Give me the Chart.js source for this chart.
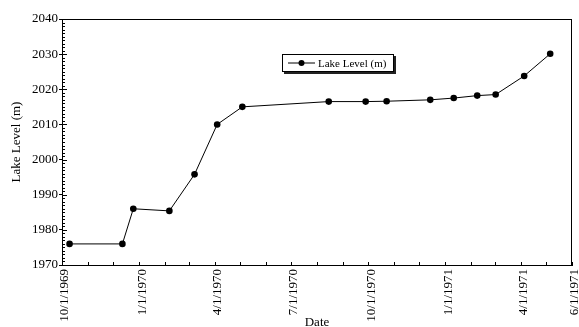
<!DOCTYPE html>
<html>
<head>
<meta charset="utf-8">
<script src="https://cdn.jsdelivr.net/npm/chart.js@4"></script>
<style>
  html, body { margin: 0; padding: 0; background: #fff; }
  #wrap { position: relative; width: 579px; height: 327px; overflow: hidden; }
  #legend {
    position: absolute; left: 282px; top: 54px; width: 110px; height: 16px;
    border: 1px solid #000; background: #fff; box-shadow: 2px 2px 0 #222;
    font-family: 'Liberation Serif', 'Times New Roman', serif; font-size: 11px;
    display: flex; align-items: center; white-space: nowrap; color: #000;
  }
  #legend svg { margin-left: 5px; margin-right: 3px; }
</style>
</head>
<body>
<div id="wrap">
  <canvas id="c" width="579" height="327"></canvas>
  <div id="legend"><svg width="27" height="10"><line x1="0" y1="5" x2="27" y2="5" stroke="#000" stroke-width="1"/><circle cx="13.5" cy="5" r="3" fill="#000"/></svg><span>Lake Level (m)</span></div>
</div>
<script>
// ---- data ----
const seriesName = 'Lake Level (m)';
const sampleDates = ['1969-10-10','1969-12-12','1969-12-25','1970-02-06','1970-03-08','1970-04-04','1970-05-04',
  '1970-08-15','1970-09-28','1970-10-23','1970-12-14','1971-01-11','1971-02-08','1971-03-02','1971-04-05','1971-05-06'];
const lakeLevels = [1976.0, 1976.0, 1986.0, 1985.4, 1995.8, 2010.0, 2015.0,
  2016.5, 2016.5, 2016.6, 2017.0, 2017.5, 2018.2, 2018.5, 2023.8, 2030.1];
const xTickDates = ['1969-10-01','1970-01-01','1970-04-01','1970-07-01','1970-10-01','1971-01-01','1971-04-01','1971-06-01'];
const xTickLabels = ['10/1/1969','1/1/1970','4/1/1970','7/1/1970','10/1/1970','1/1/1971','4/1/1971','6/1/1971'];
const xMinorDates = ['1969-11-01','1969-12-01','1970-02-01','1970-03-01','1970-05-01','1970-06-01','1970-08-01','1970-09-01',
  '1970-11-01','1970-12-01','1971-02-01','1971-03-01','1971-05-01'];
const yTicks = [1970, 1980, 1990, 2000, 2010, 2020, 2030, 2040];
const yTickLabels = ['1970', '1980', '1990', '2000', '2010', '2020', '2030', '2040'];

// ---- helpers ----
const ORIGIN = Date.UTC(1969, 9, 1);
function dayNum(s) { const p = s.split('-').map(Number); return (Date.UTC(p[0], p[1]-1, p[2]) - ORIGIN) / 86400000; }
const xTickVals = xTickDates.map(dayNum);
const xMinorVals = xMinorDates.map(dayNum);
const points = sampleDates.map((d, i) => ({ x: dayNum(d), y: lakeLevels[i] }));
const FONT = "'Liberation Serif', 'Times New Roman', serif";

const frameAndTicks = {
  id: 'frameAndTicks',
  afterDraw(chart) {
    const ctx = chart.ctx, a = chart.chartArea;
    const xs = chart.scales.x, ys = chart.scales.y;
    ctx.save();
    ctx.strokeStyle = '#000';
    ctx.lineWidth = 1;
    ctx.beginPath();
    ctx.moveTo(a.left, a.top + 0.5); ctx.lineTo(a.right, a.top + 0.5);
    ctx.moveTo(a.right - 0.5, a.top); ctx.lineTo(a.right - 0.5, a.bottom);
    for (let v = ys.min; v <= ys.max; v += 1) {
      const py = Math.round(ys.getPixelForValue(v)) + 0.5;
      const len = (v % 10 === 0) ? 5 : 3;
      ctx.moveTo(a.left, py); ctx.lineTo(a.left + len, py);
    }
    xTickVals.concat(xMinorVals).forEach(v => {
      const px = Math.round(xs.getPixelForValue(v)) + 0.5;
      ctx.moveTo(px, a.bottom); ctx.lineTo(px, a.bottom - 3);
    });
    ctx.stroke();
    ctx.restore();
  }
};

new Chart(document.getElementById('c'), {
  type: 'line',
  data: {
    datasets: [{
      label: seriesName,
      data: points,
      borderColor: '#000',
      backgroundColor: '#000',
      borderWidth: 1,
      pointRadius: 3.3,
      pointHoverRadius: 3.3,
      pointBackgroundColor: '#000',
      pointBorderWidth: 0,
      tension: 0,
      fill: false
    }]
  },
  options: {
    responsive: false,
    animation: false,
    events: [],
    layout: { padding: { top: 19, right: 7, left: 0, bottom: 0 } },
    plugins: { legend: { display: false }, tooltip: { enabled: false } },
    scales: {
      x: {
        type: 'linear',
        min: xTickVals[0],
        max: xTickVals[xTickVals.length - 1],
        afterBuildTicks(scale) { scale.ticks = xTickVals.map(v => ({ value: v })); },
        afterFit(scale) { scale.height = 62; scale.paddingLeft = 0; scale.paddingRight = 0; },
        ticks: {
          autoSkip: false, minRotation: 90, maxRotation: 90, padding: 4, labelOffset: 3,
          color: '#000', font: { family: FONT, size: 13 },
          callback(v) { const i = xTickVals.indexOf(v); return i >= 0 ? xTickLabels[i] : ''; }
        },
        grid: { display: true, drawOnChartArea: false, drawTicks: false },
        border: { display: true, color: '#000', width: 1 },
        title: { display: true, text: 'Date', color: '#000', font: { family: FONT, size: 13 }, padding: { top: 0, bottom: -3 } }
      },
      y: {
        min: 1970, max: 2040,
        afterBuildTicks(scale) { scale.ticks = yTicks.map(v => ({ value: v })); },
        afterFit(scale) { scale.width = 62; },
        ticks: {
          padding: 1, color: '#000', font: { family: FONT, size: 13 },
          callback(v) { const i = yTicks.indexOf(v); return i >= 0 ? yTickLabels[i] : ''; }
        },
        grid: { display: true, drawOnChartArea: false, drawTicks: true, tickLength: 3, tickColor: '#000' },
        border: { display: true, color: '#000', width: 1 },
        title: { display: true, text: 'Lake Level (m)', color: '#000', font: { family: FONT, size: 13 }, padding: { top: 9, bottom: 0 } }
      }
    }
  },
  plugins: [frameAndTicks]
});
</script>
</body>
</html>
